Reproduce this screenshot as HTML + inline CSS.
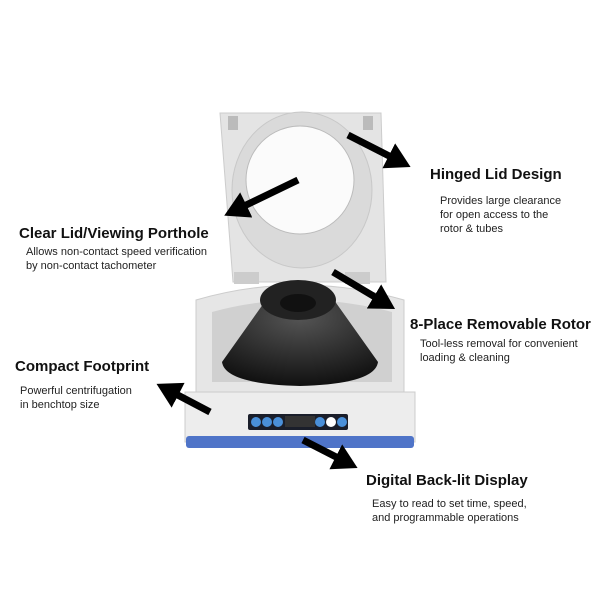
<!DOCTYPE html><html><head><style>
body{margin:0;width:600px;height:600px;background:#fff;position:relative;overflow:hidden;font-family:"Liberation Sans",sans-serif}
.t{position:absolute;font-weight:bold;font-size:15px;color:#111;white-space:nowrap}
.s{position:absolute;font-size:11px;color:#222;line-height:14px;white-space:nowrap}
</style></head><body>
<svg width="600" height="600" style="position:absolute;left:0;top:0">
<defs><marker id="a" markerWidth="4" markerHeight="4" refX="1" refY="2" orient="auto" markerUnits="strokeWidth"><path d="M0,0 L3.5,2 L0,4z" fill="#000"/></marker>
<radialGradient id="bowl" cx="50%" cy="20%" r="80%"><stop offset="0" stop-color="#555"/><stop offset="1" stop-color="#111"/></radialGradient></defs>
<path d="M220,113 L381,113 L386,282 L233,282 Z" fill="#e4e4e4" stroke="#ccc"/>
<ellipse cx="302" cy="190" rx="70" ry="78" fill="#dadada" stroke="#c8c8c8"/>
<circle cx="300" cy="180" r="54" fill="#fbfbfb" stroke="#bbb"/>
<rect x="228" y="116" width="10" height="14" fill="#bbb"/><rect x="363" y="116" width="10" height="14" fill="#bbb"/>
<rect x="234" y="272" width="25" height="12" fill="#ccc"/><rect x="345" y="272" width="25" height="12" fill="#ccc"/>
<path d="M196,300 Q300,270 404,300 L404,400 L196,400 Z" fill="#e6e6e6" stroke="#ccc"/>
<path d="M212,312 Q300,288 392,312 L392,382 L212,382 Z" fill="#d0d0d0"/>
<path d="M266,300 L334,300 L378,362 Q375,384 300,386 Q225,384 222,362 Z" fill="url(#bowl)"/>
<ellipse cx="298" cy="300" rx="38" ry="20" fill="#222"/>
<ellipse cx="298" cy="303" rx="18" ry="9" fill="#111"/>
<rect x="185" y="392" width="230" height="50" fill="#ededed" stroke="#ccc"/>
<rect x="186" y="436" width="228" height="12" rx="3" fill="#4f74c8"/>
<rect x="248" y="414" width="100" height="16" rx="2" fill="#1a1e2a"/>
<circle cx="256" cy="422" r="5" fill="#4a90d9"/><circle cx="267" cy="422" r="5" fill="#4a90d9"/><circle cx="278" cy="422" r="5" fill="#4a90d9"/>
<rect x="285" y="416" width="30" height="11" fill="#333"/>
<circle cx="320" cy="422" r="5" fill="#4a90d9"/><circle cx="331" cy="422" r="5" fill="#fff"/><circle cx="342" cy="422" r="5" fill="#4a90d9"/>
<g stroke="#000" stroke-width="7" marker-end="url(#a)">
<line x1="348" y1="135" x2="395" y2="159"/>
<line x1="298" y1="180" x2="240" y2="208"/>
<line x1="333" y1="272" x2="380" y2="300"/>
<line x1="210" y1="412" x2="172" y2="392"/>
<line x1="303" y1="440" x2="342" y2="460"/>
</g>
</svg>
<div class="t" style="left:430px;top:166px">Hinged Lid Design</div>
<div class="s" style="left:440px;top:194px">Provides large clearance<br>for open access to the<br>rotor &amp; tubes</div>
<div class="t" style="left:19px;top:225px">Clear Lid/Viewing Porthole</div>
<div class="s" style="left:26px;top:245px">Allows non-contact speed verification<br>by non-contact tachometer</div>
<div class="t" style="left:410px;top:316px">8-Place Removable Rotor</div>
<div class="s" style="left:420px;top:337px">Tool-less removal for convenient<br>loading &amp; cleaning</div>
<div class="t" style="left:15px;top:358px">Compact Footprint</div>
<div class="s" style="left:20px;top:384px">Powerful centrifugation<br>in benchtop size</div>
<div class="t" style="left:366px;top:472px">Digital Back-lit Display</div>
<div class="s" style="left:372px;top:497px">Easy to read to set time, speed,<br>and programmable operations</div>
</body></html>
